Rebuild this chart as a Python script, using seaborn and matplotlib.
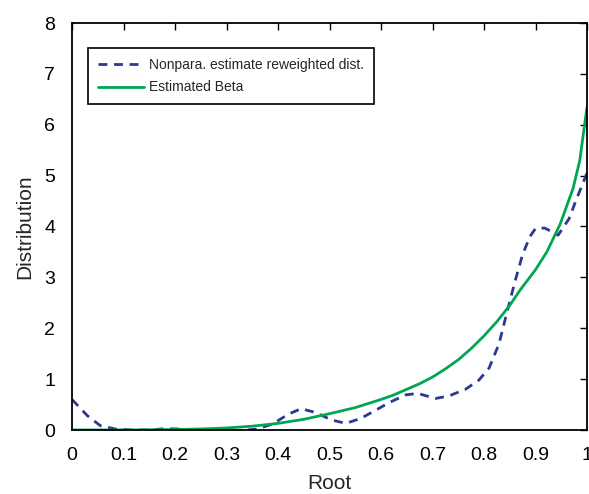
import matplotlib
matplotlib.use("Agg")
import matplotlib.pyplot as plt
import seaborn as sns
import pandas as pd

# Nonparametric estimate (dashed)
np_x = [0.0, 0.03, 0.055, 0.084, 0.116, 0.15, 0.18, 0.21, 0.24, 0.27, 0.30, 0.33, 0.36,
        0.39, 0.42, 0.445, 0.474, 0.503, 0.532, 0.561, 0.59, 0.616, 0.648, 0.671, 0.706,
        0.732, 0.764, 0.79, 0.81, 0.829, 0.845, 0.861, 0.875, 0.889, 0.90, 0.918, 0.944,
        0.965, 0.98, 1.0]
np_y = [0.6, 0.28, 0.085, 0.02, 0.0, 0.0, 0.026, 0.02, -0.01, -0.01, 0.0, -0.01, 0.02,
        0.12, 0.31, 0.42, 0.34, 0.2, 0.13, 0.23, 0.39, 0.54, 0.69, 0.72, 0.62,
        0.67, 0.8, 0.98, 1.22, 1.69, 2.33, 2.95, 3.45, 3.8, 3.96, 3.97, 3.83,
        4.15, 4.55, 5.05]

# Estimated Beta (solid)
beta_x = [0.0, 0.05, 0.1, 0.15, 0.2, 0.25, 0.3, 0.35, 0.4, 0.45, 0.5, 0.55, 0.6, 0.625,
          0.65, 0.675, 0.7, 0.725, 0.75, 0.775, 0.8, 0.825, 0.85, 0.87, 0.9, 0.922, 0.948,
          0.973, 0.986, 1.0]
beta_y = [0.0, 0.0, 0.001, 0.004, 0.01, 0.02, 0.04, 0.075, 0.13, 0.21, 0.32, 0.44, 0.6, 0.69,
          0.8, 0.91, 1.04, 1.2, 1.38, 1.6, 1.85, 2.13, 2.45, 2.75, 3.15, 3.5, 4.05,
          4.75, 5.3, 6.35]

labels = ["Nonpara. estimate reweighted dist.", "Estimated Beta"]
x_ticks = [0, 0.1, 0.2, 0.3, 0.4, 0.5, 0.6, 0.7, 0.8, 0.9, 1]
x_ticklabels = ["0", "0.1", "0.2", "0.3", "0.4", "0.5", "0.6", "0.7", "0.8", "0.9", "1"]
y_ticks = [0, 1, 2, 3, 4, 5, 6, 7, 8]

df = pd.concat([
    pd.DataFrame({"Root": np_x, "Distribution": np_y, "series": labels[0]}),
    pd.DataFrame({"Root": beta_x, "Distribution": beta_y, "series": labels[1]}),
], ignore_index=True)

sns.set_style("white")
plt.rcParams["font.family"] = ["Liberation Sans", "DejaVu Sans"]

fig = plt.figure(figsize=(5.89, 4.94), dpi=100)
ax = fig.add_axes([72 / 589, 64 / 494, 515 / 589, 407 / 494])

sns.lineplot(data=df, x="Root", y="Distribution", hue="series", style="series",
             palette={labels[0]: "#2B3990", labels[1]: "#00A651"},
             dashes={labels[0]: (3.2, 2.4), labels[1]: ""},
             linewidth=2.0, sort=False, estimator=None, ax=ax)

ax.set_xlim(0, 1)
ax.set_ylim(0, 8)
ax.set_xticks(x_ticks)
ax.set_xticklabels(x_ticklabels)
ax.set_yticks(y_ticks)
ax.tick_params(direction="in", length=5, width=1, top=True, right=True,
               labelsize=14, colors="black")
ax.tick_params(axis="x", labeltop=False, pad=12)
ax.tick_params(axis="y", labelright=False, pad=12)
for s in ax.spines.values():
    s.set_visible(True)
    s.set_linewidth(1.3)
    s.set_color("black")
ax.set_xlabel("Root", fontsize=15, labelpad=7.5)
ax.set_ylabel("Distribution", fontsize=15, labelpad=7)

leg = ax.legend(loc="upper left", bbox_to_anchor=(0.031, 0.939), fontsize=10,
                frameon=True, fancybox=False, edgecolor="black", framealpha=1,
                handlelength=3.3, handletextpad=0.35, borderpad=0.72, labelspacing=0.62,
                borderaxespad=0)
leg.get_frame().set_linewidth(1.2)

fig.savefig("out.png", dpi=100)
